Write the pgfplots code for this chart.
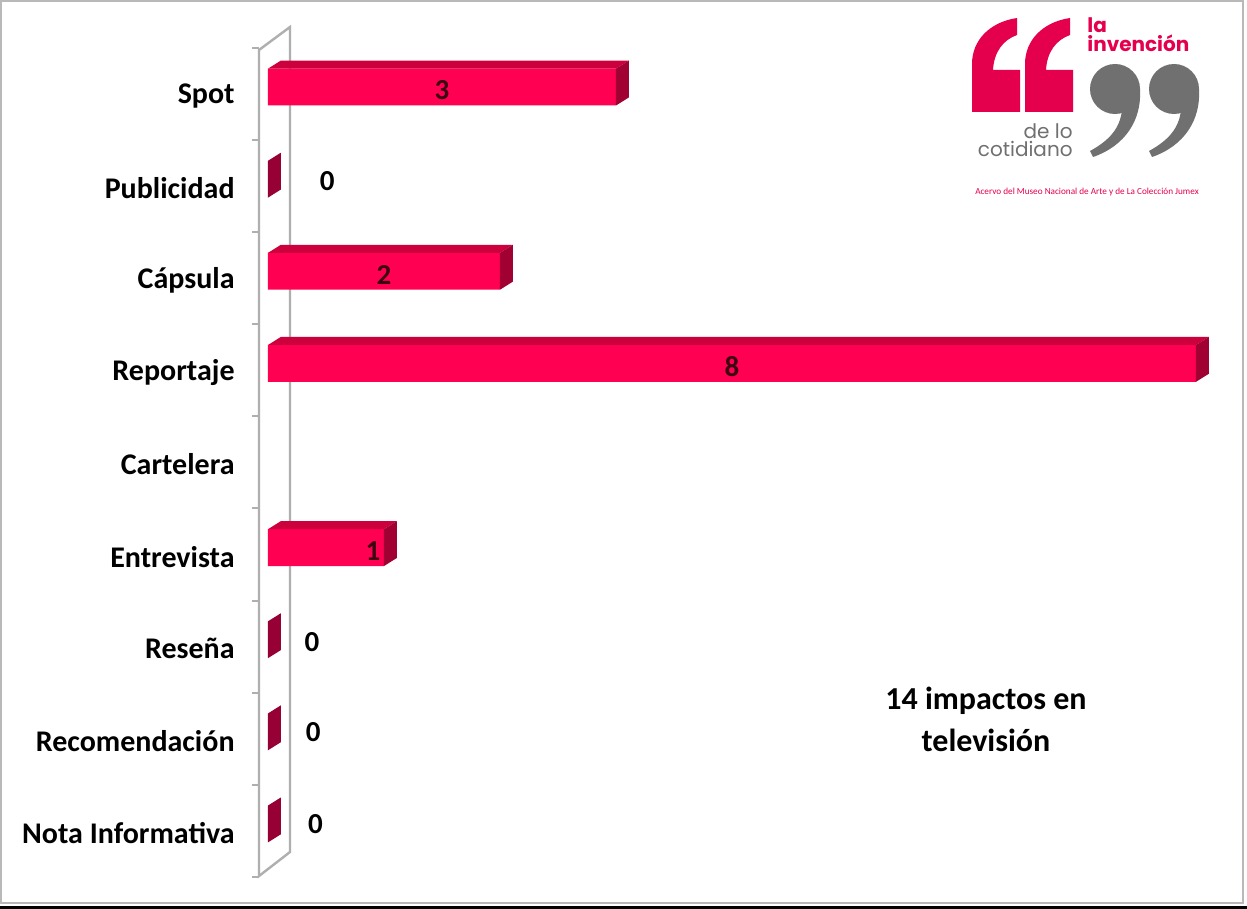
\documentclass[border=0pt]{standalone}
\usepackage{fontspec}
\setmainfont{Carlito}
\newfontfamily\logofont{Poppins}
\usepackage{pgfplots}
\pgfplotsset{compat=1.18}
\definecolor{front}{RGB}{255,0,82}
\definecolor{topf}{RGB}{205,0,62}
\definecolor{side}{RGB}{160,0,50}
\definecolor{zerob}{RGB}{150,0,52}
\definecolor{vlab}{RGB}{60,0,18}
\definecolor{wall}{RGB}{175,175,175}
\definecolor{logored}{RGB}{228,0,76}
\definecolor{logogray}{RGB}{112,112,112}
\begin{document}
\begin{tikzpicture}
% page / frame in pixel coordinates
\begin{scope}[x=0.5pt,y=-0.5pt]
\fill[white] (0,0) rectangle (1247,909);
\draw[gray!55,line width=0.6pt] (1,1) rectangle (1243,903);
\fill[black] (0,906) rectangle (1247,909);
% wall
\draw[wall,line width=1.2pt] (259,50) -- (290,27) -- (290,852) -- (259,876) -- cycle;
\foreach \t in {48,140,232,324,416,508,601,693,785,877}{
  \draw[wall,line width=0.8pt] (252,\t) -- (259,\t);
}
% logo: opening quote marks (crimson)
\foreach \o in {0,53}{
  \fill[logored,shift={(\o,0)}] (972,112) -- (1020,112) -- (1020,70) -- (993,70)
     .. controls (994,52) and (1003,40) .. (1017,35) -- (1017,18)
     .. controls (990,22) and (972,40) .. (972,64) -- cycle;
}
% logo: closing quote marks (gray)
\foreach \o in {0,59}{
  \begin{scope}[shift={(\o,0)}]
  \fill[logogray] (1115,89) circle[radius=25];
  \fill[logogray] (1140,89) .. controls (1142,120) and (1125,146) .. (1093,157)
     -- (1090,151) .. controls (1110,140) and (1120,128) .. (1122,110) -- cycle;
  \end{scope}
}
\node[anchor=base west,inner sep=0pt,text=logored] at (1087,33) {\logofont\bfseries\fontsize{10}{10}\selectfont la};
\node[anchor=base west,inner sep=0pt,text=logored] at (1087,52) {\logofont\bfseries\fontsize{10}{10}\selectfont invención};
\node[anchor=base east,inner sep=0pt,text=logogray] at (1073,139) {\logofont\fontsize{10}{10}\selectfont de lo};
\node[anchor=base east,inner sep=0pt,text=logogray] at (1073,157) {\logofont\fontsize{10}{10}\selectfont cotidiano};
\node[anchor=center,inner sep=0pt,text=logored] at (1087,192) {\fontsize{4.6}{5}\selectfont Acervo del Museo Nacional de Arte y de La Colección Jumex};
% annotation
\node[align=center,inner sep=0pt,font=\bfseries\fontsize{16}{21}\selectfont] at (986,719) {14 impactos en\\televisión};
\end{scope}
\begin{axis}[
  at={(134pt,-438.5pt)}, anchor=south west,
  scale only axis, width=464pt, height=414.5pt,
  xmin=0, xmax=8, ymin=-0.5, ymax=8.5,
  clip=false,
  axis line style={draw=none},
  xtick=\empty,
  ytick={0,1,2,3,4,5,6,7,8},
  yticklabels={Nota Informativa,Recomendación,Reseña,Entrevista,Cartelera,Reportaje,Cápsula,Publicidad,Spot},
  major tick length=0pt,
  yticklabel style={anchor=east,inner sep=0pt,xshift=-16.5pt,yshift=-1pt,font=\bfseries\fontsize{15}{16}\selectfont},
]
% front faces
\addplot[xbar, bar width=0.4, bar shift=0.076, fill=front, draw=none]
  coordinates {(3,8) (2,6) (8,5) (1,3)};
% top faces
\addplot[fill=topf, draw=none] coordinates {(0,8.276) (3,8.276) (3.11,8.363) (0.11,8.363)} -- cycle;
\addplot[fill=topf, draw=none] coordinates {(0,6.276) (2,6.276) (2.11,6.363) (0.11,6.363)} -- cycle;
\addplot[fill=topf, draw=none] coordinates {(0,5.276) (8,5.276) (8.11,5.363) (0.11,5.363)} -- cycle;
\addplot[fill=topf, draw=none] coordinates {(0,3.276) (1,3.276) (1.11,3.363) (0.11,3.363)} -- cycle;
% side faces
\addplot[fill=side, draw=none] coordinates {(3,7.876) (3.11,7.963) (3.11,8.363) (3,8.276)} -- cycle;
\addplot[fill=side, draw=none] coordinates {(2,5.876) (2.11,5.963) (2.11,6.363) (2,6.276)} -- cycle;
\addplot[fill=side, draw=none] coordinates {(8,4.876) (8.11,4.963) (8.11,5.363) (8,5.276)} -- cycle;
\addplot[fill=side, draw=none] coordinates {(1,2.876) (1.11,2.963) (1.11,3.363) (1,3.276)} -- cycle;
% zero bars
\addplot[fill=zerob, draw=none] coordinates {(0,6.876) (0.11,6.963) (0.11,7.363) (0,7.276)} -- cycle;
\addplot[fill=zerob, draw=none] coordinates {(0,1.876) (0.11,1.963) (0.11,2.363) (0,2.276)} -- cycle;
\addplot[fill=zerob, draw=none] coordinates {(0,0.876) (0.11,0.963) (0.11,1.363) (0,1.276)} -- cycle;
\addplot[fill=zerob, draw=none] coordinates {(0,-0.124) (0.11,-0.037) (0.11,0.363) (0,0.276)} -- cycle;
% value labels inside bars
\addplot[only marks, mark=none, point meta=explicit symbolic,
  nodes near coords, every node near coord/.append style={anchor=center,inner sep=0pt,text=vlab,font=\bfseries\fontsize{14.5}{16}\selectfont}]
  coordinates {(1.5,8.04)[3] (1,6.04)[2] (4,5.04)[8] (0.905,3.04)[1]};
% zero labels
\addplot[only marks, mark=none, point meta=explicit symbolic,
  nodes near coords, every node near coord/.append style={anchor=center,inner sep=0pt,text=black,font=\bfseries\fontsize{14.5}{16}\selectfont}]
  coordinates {(0.51,7.05)[0] (0.38,2.05)[0] (0.39,1.07)[0] (0.41,0.07)[0]};
\end{axis}
\end{tikzpicture}
\end{document}
